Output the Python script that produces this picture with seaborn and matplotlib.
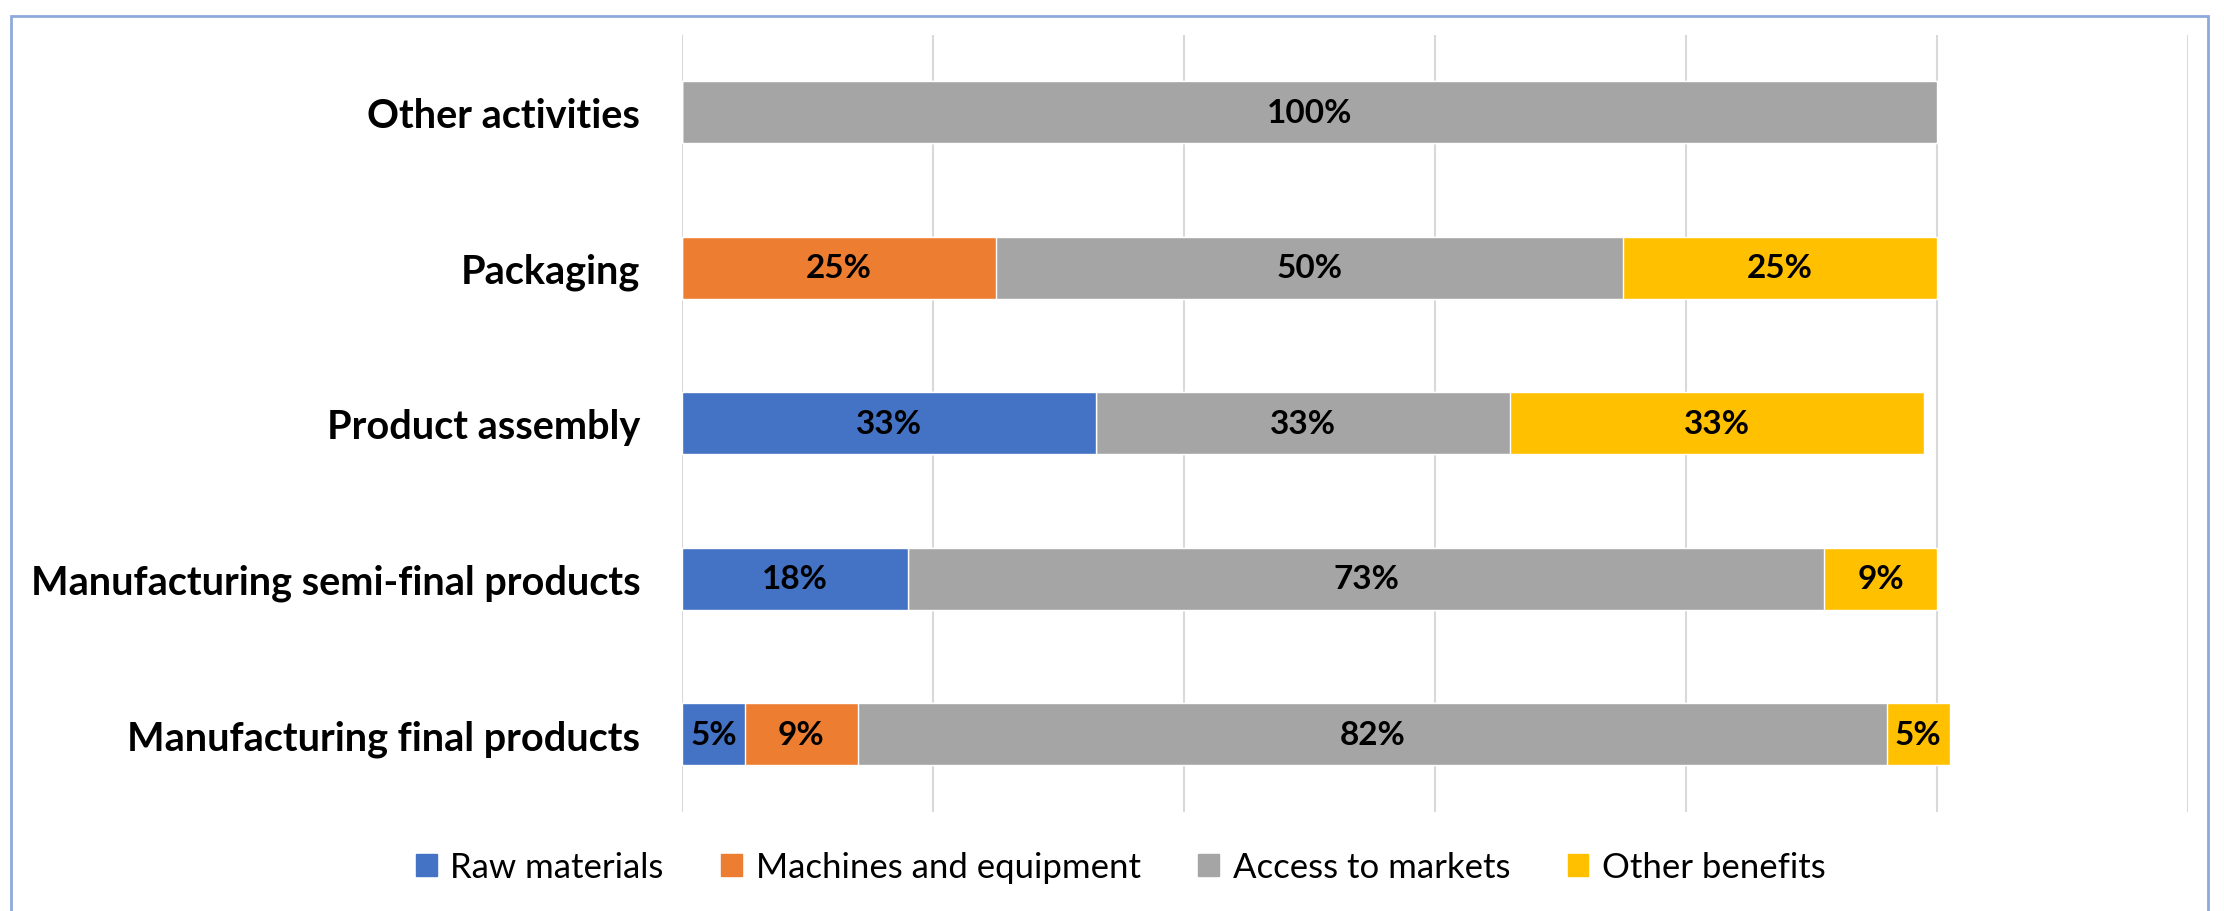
import numpy as np
import pandas as pd
import matplotlib
matplotlib.use("Agg")
import matplotlib.pyplot as plt
import seaborn as sns
from matplotlib.patches import Rectangle

# Chart data (percent of companies per activity)
categories = ["Other activities", "Packaging", "Product assembly",
              "Manufacturing semi-final products", "Manufacturing final products"]
series_names = ["Raw materials", "Machines and equipment", "Access to markets", "Other benefits"]
raw_materials = [0, 0, 33, 18, 5]
machines = [0, 25, 0, 0, 9]
access_markets = [100, 50, 33, 73, 82]
other_benefits = [0, 25, 33, 9, 5]
colors = ["#4472C4", "#ED7D31", "#A5A5A5", "#FFC000"]

sns.set_theme(style="white")
plt.rcParams["font.family"] = ["Lato", "DejaVu Sans"]
plt.rcParams["text.color"] = "black"

fig = plt.figure(figsize=(22.24, 9.12), dpi=100)
ax = fig.add_axes([682 / 2224, 1 - 813 / 912, (2188 - 682) / 2224, (813 - 35.5) / 912])

series = [raw_materials, machines, access_markets, other_benefits]
cum = np.cumsum(np.array(series), axis=0)

# stacked bars: draw cumulative totals from the largest down so each layer shows
for i in range(len(series) - 1, -1, -1):
    df = pd.DataFrame({"category": categories, "value": cum[i]})
    sns.barplot(data=df, y="category", x="value", color=colors[i], width=0.4,
                saturation=1, orient="h", ax=ax, zorder=3)

# value labels in the middle of each segment
for i, vals in enumerate(series):
    starts = cum[i] - np.array(vals)
    for j, v in enumerate(vals):
        if v > 0:
            ax.text(starts[j] + v / 2, j, f"{v}%", ha="center", va="center",
                    fontsize=24, fontweight="bold", color="black", zorder=4)

ax.set_xlim(0, 120)
ax.set_ylim(4.5, -0.5)
ax.set_xticks(np.arange(0, 121, 20))
ax.set_xticklabels([])
ax.grid(axis="x", color="#D9D9D9", linewidth=1.5, zorder=0)
ax.grid(axis="y", visible=False)
ax.set_xlabel("")
ax.set_ylabel("")
for s in ax.spines.values():
    s.set_visible(False)
ax.tick_params(axis="y", length=0, pad=30, labelcolor="black")
ax.tick_params(axis="x", length=0)
for lbl in ax.get_yticklabels():
    lbl.set_fontweight("bold")
    lbl.set_fontsize(28.5)

handles = [plt.Rectangle((0, 0), 1, 1, color=c) for c in colors]
fig.legend(handles, series_names, loc="center", bbox_to_anchor=(0.504, 1 - 868 / 912),
           ncol=4, frameon=False, fontsize=25, handlelength=0.6, handleheight=0.6,
           handletextpad=0.4, columnspacing=1.65, labelcolor="black")

# chart border
fig.patches.append(Rectangle((11 / 2224, -0.1), (2208 - 11) / 2224, 1.1 - 17 / 912,
                             transform=fig.transFigure, fill=False,
                             edgecolor="#8EA9DB", linewidth=2))

fig.savefig("out.png", dpi=100)
